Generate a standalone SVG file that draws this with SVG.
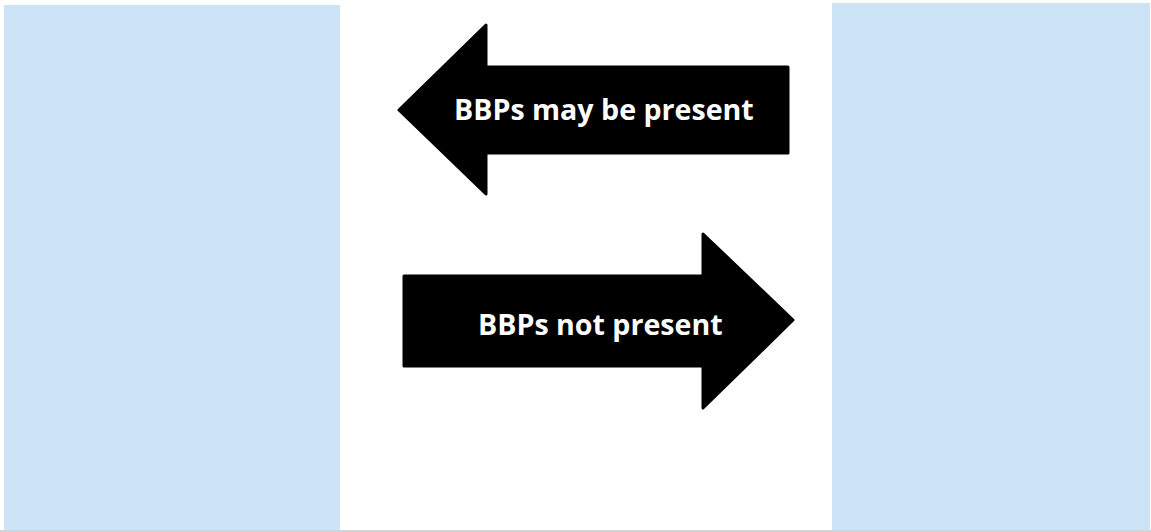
<svg xmlns="http://www.w3.org/2000/svg" width="1151" height="532" viewBox="0 0 1151 532">
<style>
.panel{fill:#cde4f7}
.arrow{fill:#000;stroke:#000;stroke-width:3;stroke-linejoin:round}
.lbl{fill:#fff;font-family:"Open Sans","Liberation Sans",sans-serif;font-weight:bold;font-size:28.6px}
</style>
<rect x="0" y="0" width="1151" height="532" fill="#fff"/>
<g id="left-panel"><rect class="panel" x="4" y="5" width="336" height="526"/></g>
<g id="right-panel"><rect class="panel" x="832" y="3" width="318" height="528"/></g>
<rect x="0" y="530" width="1151" height="2" fill="#d4d4d4"/>
<g id="connectors">
<g id="arrow-may-be-present">
<path class="arrow" d="M399,110 L486,25 L486,67 L788,67 L788,153 L486,153 L486,194 Z"/>
<text class="lbl" x="454" y="120">BBPs may be present</text>
</g>
<g id="arrow-not-present">
<path class="arrow" d="M404,276 L703,276 L703,234 L793,320 L703,408 L703,366 L404,366 Z"/>
<text class="lbl" x="478" y="335">BBPs not present</text>
</g>
</g>
</svg>
